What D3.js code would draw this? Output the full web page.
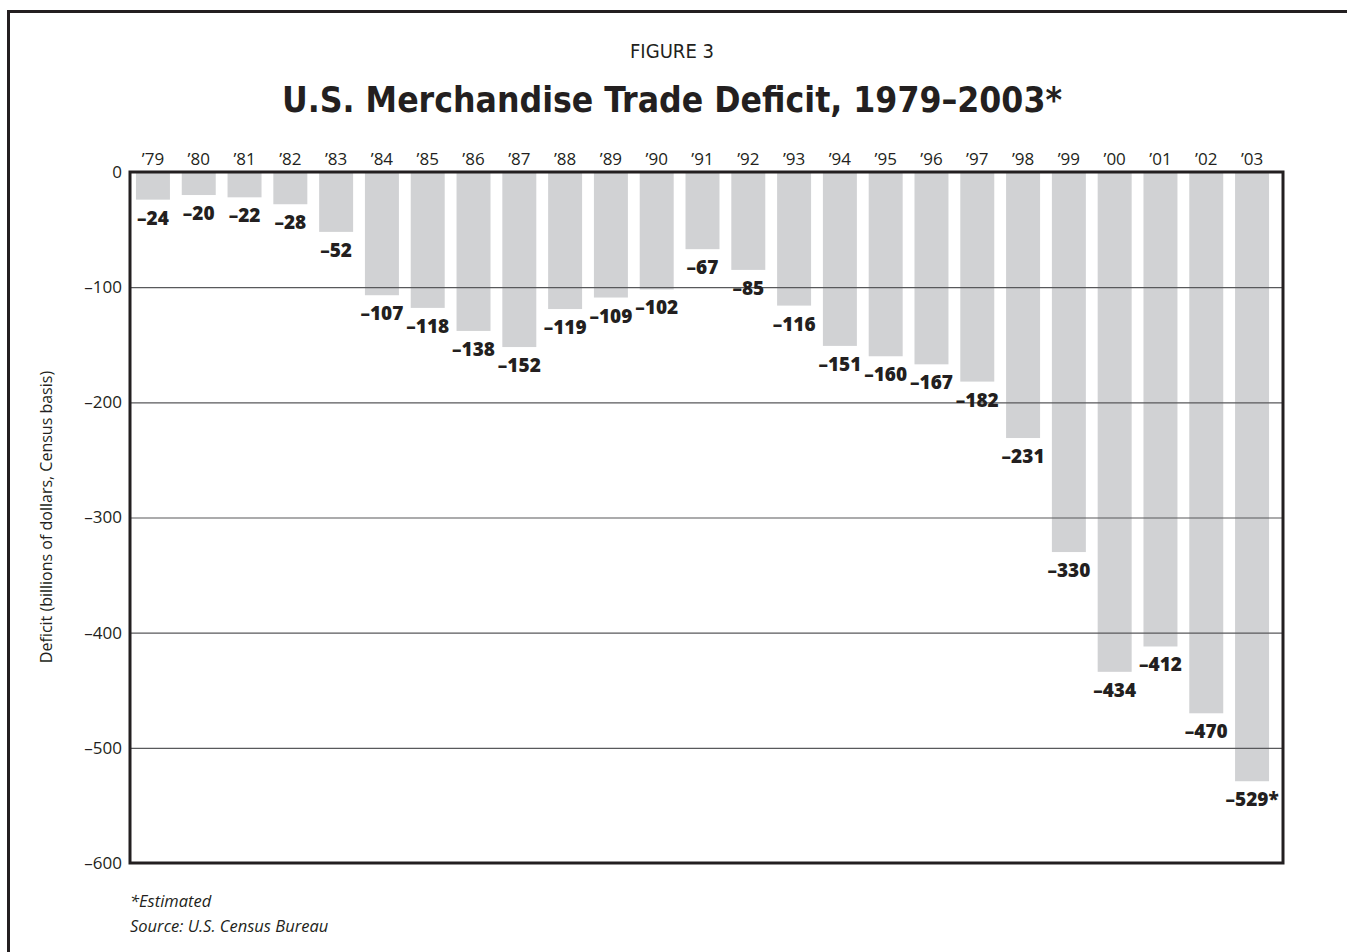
<!DOCTYPE html>
<html>
<head>
<meta charset="utf-8">
<script src="https://cdn.jsdelivr.net/npm/d3@7"></script>
<style>
  html, body { margin: 0; padding: 0; background: #fff; }
  svg { display: block; }
</style>
</head>
<body>
<svg id="chart" width="1347" height="952"></svg>
<script>
// U.S. merchandise trade deficit, billions of dollars (Census basis)
const yearLabels = ["’79","’80","’81","’82","’83","’84","’85","’86","’87","’88","’89","’90",
                    "’91","’92","’93","’94","’95","’96","’97","’98","’99","’00","’01","’02","’03"];
const deficits = [-24,-20,-22,-28,-52,-107,-118,-138,-152,-119,-109,-102,
                  -67,-85,-116,-151,-160,-167,-182,-231,-330,-434,-412,-470,-529];
const valueSuffix = ["","","","","","","","","","","","","","","","","","","","","","","","","*"];
const yTicks = [0,-100,-200,-300,-400,-500,-600];

const svg = d3.select("#chart");
const W = 1347, H = 952;
const plot = { left: 130, top: 172, right: 1283, bottom: 863 };
const fmt = v => (v < 0 ? "–" + Math.abs(v) : String(v));

// outer frame (runs off the page on the right and bottom)
svg.append("rect")
  .attr("x", 8.5).attr("y", 11.5)
  .attr("width", W + 20).attr("height", H + 20)
  .attr("fill", "none").attr("stroke", "#231f20").attr("stroke-width", 3);

// headings
svg.append("text")
  .attr("x", 672).attr("y", 58)
  .attr("text-anchor", "middle")
  .attr("font-family", "'DejaVu Sans', sans-serif")
  .attr("font-stretch", "condensed")
  .attr("font-size", 20)
  .attr("fill", "#231f20")
  .attr("textLength", 84).attr("lengthAdjust", "spacingAndGlyphs")
  .text("FIGURE 3");

svg.append("text")
  .attr("x", 672).attr("y", 112)
  .attr("text-anchor", "middle")
  .attr("font-family", "'DejaVu Sans', sans-serif")
  .attr("font-stretch", "condensed")
  .attr("font-weight", 700)
  .attr("font-size", 36)
  .attr("fill", "#231f20")
  .attr("textLength", 780).attr("lengthAdjust", "spacingAndGlyphs")
  .text("U.S. Merchandise Trade Deficit, 1979–2003*");

// scales
const x = d3.scaleBand()
  .domain(yearLabels)
  .range([plot.left, 1275])
  .paddingInner(0.258)
  .paddingOuter(0.13);

const y = d3.scaleLinear()
  .domain([0, -600])
  .range([plot.top, plot.bottom]);

// bars
svg.append("g")
  .selectAll("rect")
  .data(deficits)
  .join("rect")
  .attr("x", (d, i) => x(yearLabels[i]))
  .attr("y", y(0))
  .attr("width", x.bandwidth())
  .attr("height", d => y(d) - y(0))
  .attr("fill", "#d1d2d4");

// gridlines over the bars
svg.append("g")
  .selectAll("line")
  .data(yTicks.filter(t => t !== 0 && t !== -600))
  .join("line")
  .attr("x1", plot.left).attr("x2", plot.right)
  .attr("y1", d => y(d) + 0.5).attr("y2", d => y(d) + 0.5)
  .attr("stroke", "#58595b").attr("stroke-width", 1.2);

// plot frame
svg.append("rect")
  .attr("x", plot.left).attr("y", plot.top)
  .attr("width", plot.right - plot.left).attr("height", plot.bottom - plot.top)
  .attr("fill", "none").attr("stroke", "#231f20").attr("stroke-width", 3);

// y axis labels
const yAxis = d3.axisLeft(y).tickValues(yTicks).tickSize(0).tickPadding(8).tickFormat(fmt);
const gy = svg.append("g").attr("transform", `translate(${plot.left},0)`).call(yAxis);
gy.select(".domain").remove();
gy.selectAll("text")
  .attr("font-family", "'Open Sans', sans-serif")
  .attr("font-size", 17)
  .attr("fill", "#231f20");

// x axis (year) labels above the plot
const xAxis = d3.axisTop(x).tickSize(0).tickPadding(7);
const gx = svg.append("g").attr("transform", `translate(0,${plot.top})`).call(xAxis);
gx.select(".domain").remove();
gx.selectAll("text")
  .attr("font-family", "'Open Sans', sans-serif")
  .attr("font-size", 17)
  .attr("fill", "#231f20");

// value labels under each bar
svg.append("g")
  .selectAll("text")
  .data(deficits)
  .join("text")
  .attr("x", (d, i) => x(yearLabels[i]) + x.bandwidth() / 2)
  .attr("y", d => y(d) + 25)
  .attr("text-anchor", "middle")
  .attr("font-family", "'Open Sans', sans-serif")
  .attr("font-weight", 800)
  .attr("font-size", 19)
  .attr("fill", "#231f20")
  .text((d, i) => fmt(d) + valueSuffix[i]);

// y axis title
svg.append("text")
  .attr("transform", "translate(52,517) rotate(-90)")
  .attr("text-anchor", "middle")
  .attr("font-family", "'Open Sans', sans-serif")
  .attr("font-size", 16)
  .attr("fill", "#231f20")
  .text("Deficit (billions of dollars, Census basis)");

// notes
const notes = svg.append("g")
  .attr("font-family", "'Open Sans', sans-serif")
  .attr("font-style", "italic")
  .attr("font-size", 16.5)
  .attr("fill", "#231f20");
notes.append("text").attr("x", 130).attr("y", 907).text("*Estimated");
notes.append("text").attr("x", 130).attr("y", 932).text("Source: U.S. Census Bureau");
</script>
</body>
</html>
